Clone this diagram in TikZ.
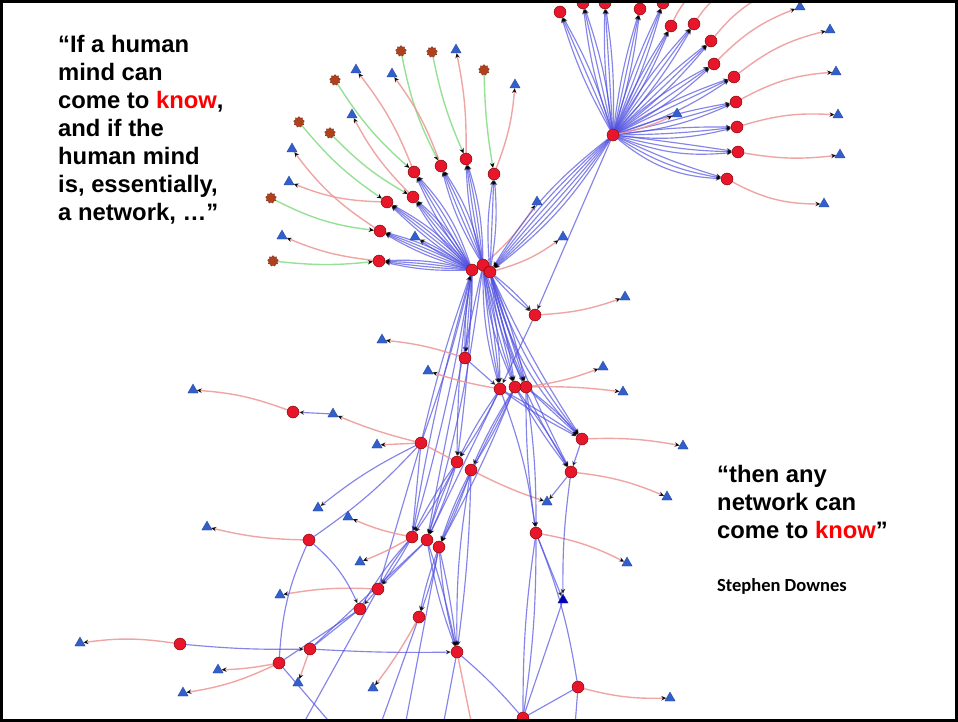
\documentclass[tikz,border=0pt]{standalone}
\usepackage{fontspec}
\setmainfont{Liberation Sans}
\newfontfamily\carl{Carlito}
\usetikzlibrary{shapes.geometric,arrows.meta,backgrounds}
\definecolor{nred}{RGB}{232,22,42}
\definecolor{nblue}{RGB}{50,95,205}
\definecolor{nbrown}{RGB}{175,65,30}
\definecolor{eblue}{RGB}{80,80,225}
\definecolor{epink}{RGB}{238,150,150}
\definecolor{egreen}{RGB}{150,225,150}
\definecolor{kred}{RGB}{255,0,0}
\newcommand\mybund[3]{\foreach \k in {#3}{\draw[bedge,arr] (#1) to[bend left=\k] (#2);}}
\begin{document}
\begin{tikzpicture}[x=1pt,y=-1pt,
 rn/.style={circle,fill=nred,draw=red!45!black,line width=0.4pt,inner sep=0pt,minimum size=12pt},
 tn/.style={regular polygon,regular polygon sides=3,fill=nblue,draw=nblue!70!black,line width=0.3pt,inner sep=0pt,minimum size=12pt},
 bn/.style={star,star points=9,star point ratio=1.35,fill=nbrown,draw=nbrown!70!black,line width=0.3pt,inner sep=0pt,minimum size=11pt},
 bedge/.style={draw=eblue,opacity=0.7,line width=1.15pt},
 pedge/.style={draw=epink,line width=1.4pt,opacity=0.85},
 gedge/.style={draw=egreen,line width=1.4pt},
 arr/.style={-{Stealth[length=5pt,width=4.5pt,black]}},
 qt/.style={font=\bfseries\fontsize{23.8}{28}\selectfont,align=left,anchor=north west,inner sep=0pt}
]
\useasboundingbox (0,0) rectangle (958,722);
% ---------- nodes
% upper-left fan reds
\node[rn] (rA) at (414,172) {};
\node[rn] (rB) at (441,166) {};
\node[rn] (rC) at (466,159) {};
\node[rn] (rD) at (494,174) {};
\node[rn] (rE) at (413,197) {};
\node[rn] (rF) at (387,202) {};
\node[rn] (rG) at (380,231) {};
\node[rn] (rH) at (379,261) {};
% hub
\node[rn] (h1) at (472,270) {};
\node[rn] (h2) at (483,265) {};
\node[rn] (h3) at (490,272) {};
% right hub and fan
\node[rn] (rh) at (613,135) {};
\node[rn] (q1) at (560,12) {};
\node[rn] (q2) at (583,3) {};
\node[rn] (q3) at (605,3) {};
\node[rn] (q4) at (640,9) {};
\node[rn] (q5) at (663,3) {};
\node[rn] (q6) at (671,26) {};
\node[rn] (q7) at (694,24) {};
\node[rn] (q8) at (711,41) {};
\node[rn] (q9) at (714,64) {};
\node[rn] (q10) at (734,77) {};
\node[rn] (q11) at (736,102) {};
\node[rn] (q12) at (737,127) {};
\node[rn] (q13) at (738,152) {};
\node[rn] (q14) at (727,179) {};
% middle reds
\node[rn] (m1) at (535,315) {};
\node[rn] (m2) at (465,358) {};
\node[rn] (m3) at (500,389) {};
\node[rn] (m4) at (515,387) {};
\node[rn] (m5) at (526,387) {};
\node[rn] (m6) at (293,412) {};
\node[rn] (m7) at (421,443) {};
\node[rn] (m8) at (457,462) {};
\node[rn] (m9) at (471,470) {};
\node[rn] (m10) at (582,439) {};
\node[rn] (m11) at (571,472) {};
\node[rn] (m12) at (536,533) {};
% lower reds
\node[rn] (l1) at (309,540) {};
\node[rn] (l2) at (412,537) {};
\node[rn] (l3) at (427,540) {};
\node[rn] (l4) at (439,547) {};
\node[rn] (l5) at (378,589) {};
\node[rn] (l6) at (360,609) {};
\node[rn] (l7) at (419,617) {};
\node[rn] (l8) at (457,652) {};
\node[rn] (l9) at (180,644) {};
\node[rn] (l10) at (310,649) {};
\node[rn] (l11) at (279,663) {};
\node[rn] (l12) at (578,687) {};
\node[rn] (l13) at (523,718) {};
% triangles
\node[tn] (tu1) at (456,50) {};
\node[tn] (tu2) at (515,85) {};
\node[tn] (tu3) at (356,70) {};
\node[tn] (tu4) at (392,74) {};
\node[tn] (tu5) at (352,115) {};
\node[tn] (tu6) at (292,149) {};
\node[tn] (tu7) at (289,182) {};
\node[tn] (tu8) at (282,236) {};
\node[tn] (tu9) at (537,202) {};
\node[tn] (tu10) at (563,237) {};
\node[tn] (tu11) at (415,237) {};
\node[tn] (tr1) at (800,7) {};
\node[tn] (tr2) at (830,30) {};
\node[tn] (tr3) at (836,72) {};
\node[tn] (tr4) at (838,115) {};
\node[tn] (tr5) at (840,155) {};
\node[tn] (tr6) at (824,204) {};
\node[tn] (tr7) at (677,114) {};
\node[tn] (tm1) at (625,297) {};
\node[tn] (tm2) at (382,340) {};
\node[tn] (tm3) at (428,371) {};
\node[tn] (tm4) at (603,367) {};
\node[tn] (tm5) at (623,392) {};
\node[tn] (tm6) at (193,390) {};
\node[tn] (tm7) at (333,414) {};
\node[tn] (tm8) at (377,445) {};
\node[tn] (tm9) at (547,502) {};
\node[tn] (tm10) at (683,446) {};
\node[tn] (tm11) at (667,497) {};
\node[tn] (tm12) at (627,563) {};
\node[tn,fill=blue!75!black] (tm13) at (563,600) {};
\node[tn] (tl1) at (318,508) {};
\node[tn] (tl2) at (348,517) {};
\node[tn] (tl3) at (207,527) {};
\node[tn] (tl4) at (360,562) {};
\node[tn] (tl5) at (280,595) {};
\node[tn] (tl6) at (80,643) {};
\node[tn] (tl7) at (218,670) {};
\node[tn] (tl8) at (183,693) {};
\node[tn] (tl9) at (298,683) {};
\node[tn] (tl10) at (373,688) {};
\node[tn] (tl11) at (670,698) {};
% brown
\node[bn] (b1) at (401,51) {};
\node[bn] (b2) at (432,52) {};
\node[bn] (b3) at (484,70) {};
\node[bn] (b4) at (335,80) {};
\node[bn] (b5) at (299,122) {};
\node[bn] (b6) at (330,133) {};
\node[bn] (b7) at (271,198) {};
\node[bn] (b8) at (273,261) {};
% off-frame ends
\coordinate (ct1) at (690,-4);
\coordinate (ct2) at (718,-4);
\coordinate (ct3) at (762,-4);
\coordinate (cb1) at (333,726);
\coordinate (cb2) at (302,726);
\coordinate (cb3) at (380,726);
\coordinate (cb4) at (443,726);
\coordinate (cb5) at (472,726);
\coordinate (cb6) at (575,726);
\coordinate (cb7) at (405,726);
% ---------- edges
\begin{pgfonlayer}{background}
\fill[white] (0,0) rectangle (958,722);
% green
\draw[gedge,arr] (b1) to[bend right=8] (rB);
\draw[gedge,arr] (b2) to[bend right=6] (rC);
\draw[gedge,arr] (b3) to[bend right=4] (rD);
\draw[gedge,arr] (b4) to[bend right=8] (rA);
\draw[gedge,arr] (b5) to[bend right=8] (rF);
\draw[gedge,arr] (b6) to[bend right=8] (rE);
\draw[gedge,arr] (b7) to[bend right=10] (rG);
\draw[gedge,arr] (b8) to[bend right=6] (rH);
% pink upper-left
\draw[pedge,arr] (rA) to[bend right=8] (tu3);
\draw[pedge,arr] (rB) to[bend right=8] (tu4);
\draw[pedge,arr] (rC) to[bend right=6] (tu1);
\draw[pedge,arr] (rD) to[bend right=8] (tu2);
\draw[pedge,arr] (rE) to[bend left=8] (tu5);
\draw[pedge,arr] (rG) to[bend left=10] (tu6);
\draw[pedge,arr] (rF) to[bend left=10] (tu7);
\draw[pedge,arr] (rH) to[bend left=8] (tu8);
\draw[pedge,arr] (h2) to[bend right=8] (tu9);
\draw[pedge,arr] (h3) to[bend right=10] (tu10);
% blue hub fan
\mybund{h1}{rA}{-12,-6,0,6}
\mybund{h2}{rB}{-10,-4,2,8}
\mybund{h2}{rC}{-8,-3,2,7}
\mybund{h3}{rD}{-7,0,7}
\mybund{h1}{rE}{-10,-4,2,8}
\mybund{h1}{rF}{-10,-5,0,5}
\mybund{h1}{rG}{-8,-3,2,7}
\mybund{h1}{rH}{-8,-3,2,7}
\mybund{h1}{tu11}{-4,4}
\mybund{rh}{h3}{-10,-6,-2,2,6,10}
% right fan
\mybund{rh}{q1}{-6,0,6}
\mybund{rh}{q2}{-6,0,6}
\mybund{rh}{q3}{-5,0,5}
\mybund{rh}{q4}{-5,0,5}
\mybund{rh}{q5}{-5,0,5}
\mybund{rh}{q6}{-5,0,5}
\mybund{rh}{q7}{-6,0,6}
\mybund{rh}{q8}{-6,0,6}
\mybund{rh}{q9}{-7,0,7}
\mybund{rh}{q10}{-8,0,6}
\mybund{rh}{q11}{-9,-2,5}
\mybund{rh}{q12}{-10,-3,4}
\mybund{rh}{q13}{-13,-6,1}
\mybund{rh}{q14}{-18,-11,-4}
\draw[pedge,arr] (q6) to[bend left=8] (ct1);
\draw[pedge,arr] (q7) to[bend left=8] (ct2);
\draw[pedge,arr] (q8) to[bend left=10] (ct3);
\draw[pedge,arr] (q9) to[bend left=12] (tr1);
\draw[pedge,arr] (q10) to[bend left=12] (tr2);
\draw[pedge,arr] (q11) to[bend left=12] (tr3);
\draw[pedge,arr] (q12) to[bend left=10] (tr4);
\draw[pedge,arr] (q13) to[bend right=8] (tr5);
\draw[pedge,arr] (q14) to[bend right=14] (tr6);
\draw[pedge,arr] (rh) to[bend right=6] (tr7);
% hub downward
\draw[bedge,arr] (rh) -- (m1);
\mybund{h3}{m1}{-5,5}
\mybund{h1}{m2}{-5,0,5}
\mybund{h2}{m3}{-8,-3,2,7}
\mybund{h2}{m4}{-9,-4,1,6}
\mybund{h3}{m5}{-10,-5,0,5}
\mybund{h3}{m10}{-14,-9,-4}
\mybund{h3}{m11}{-10,-5}
\mybund{h1}{m8}{-4,3}
\mybund{h1}{l2}{-3,3}
\mybund{h2}{l3}{-1,4}
\mybund{m7}{h1}{-3,3}
% middle
\draw[pedge,arr] (m1) to[bend right=8] (tm1);
\draw[pedge,arr] (m2) to[bend right=6] (tm2);
\draw[pedge,arr] (m3) to[bend left=4] (tm3);
\draw[pedge,arr] (m5) to[bend right=6] (tm4);
\draw[pedge,arr] (m5) to[bend left=4] (tm5);
\draw[pedge,arr] (m6) to[bend right=8] (tm6);
\draw[bedge,arr] (tm7) -- (m6);
\draw[pedge,arr] (m7) to[bend left=4] (tm7);
\draw[pedge] (m7) -- (m8);
\draw[pedge,arr] (m7) -- (tm8);
\draw[pedge,arr] (m9) to[bend right=4] (tm9);
\draw[pedge,arr] (m10) to[bend left=6] (tm10);
\draw[pedge,arr] (m11) to[bend left=8] (tm11);
\draw[pedge,arr] (m12) to[bend left=8] (tm12);
\draw[bedge,arr] (m2) -- (m3);
\draw[bedge,arr] (m1) -- (m3);
\mybund{m3}{m10}{-4,3}
\mybund{m4}{m11}{-4,3}
\mybund{m5}{m10}{0,5}
\mybund{m3}{m8}{-4,4}
\mybund{m4}{m9}{-4,4}
\mybund{m4}{l4}{-3,3}
\mybund{m3}{l3}{0}
\mybund{m5}{m12}{-4,4}
\mybund{m3}{m12}{6}
\draw[bedge,arr] (m10) -- (m11);
\draw[bedge,arr] (m11) -- (tm9);
\draw[bedge,arr] (m11) to[bend right=4] (tm13);
\draw[bedge,arr] (m12) -- (tm13);
\draw[bedge] (m12) to[bend left=6] (l12);
\draw[bedge] (m12) to[bend right=4] (l13);
\draw[bedge] (m12) to[bend left=4] (l13);
\draw[bedge] (tm13) -- (l13);
\draw[bedge,arr] (m7) to[bend right=6] (tl1);
\draw[bedge] (m7) -- (l5);
\draw[bedge] (m7) -- (l2);
\draw[bedge] (m7) to[bend left=6] (l1);
\mybund{m8}{l2}{-4,4}
\mybund{m8}{l3}{-4,4}
\mybund{m9}{l4}{-4,4}
\mybund{m9}{l8}{-5,3}
% lower
\draw[pedge,arr] (l1) to[bend left=6] (tl3);
\draw[pedge,arr] (l2) to[bend left=6] (tl2);
\draw[pedge,arr] (l2) to[bend left=4] (tl4);
\draw[pedge,arr] (l5) to[bend right=6] (tl5);
\draw[pedge,arr] (l9) to[bend right=8] (tl6);
\draw[pedge,arr] (l11) to[bend left=4] (tl7);
\draw[pedge,arr] (l11) to[bend left=8] (tl8);
\draw[pedge,arr] (l10) -- (tl9);
\draw[pedge,arr] (l7) to[bend left=4] (tl10);
\draw[pedge,arr] (l12) to[bend right=8] (tl11);
\mybund{l2}{l5}{-4,4}
\draw[bedge,arr] (l3) -- (l5);
\mybund{l4}{l7}{-4,4}
\mybund{l3}{l8}{-5,3}
\mybund{l4}{l8}{-5,3}
\draw[bedge] (l2) to[bend right=6] (l6);
\draw[bedge] (l3) -- (l10);
\draw[bedge,arr] (l5) -- (l6);
\draw[bedge] (l6) -- (l11);
\draw[bedge] (l6) -- (l10);
\draw[bedge,arr] (l1) to[bend left=12] (l6);
\draw[bedge] (l1) to[bend right=10] (l11);
\draw[bedge,arr] (l9) to[bend right=3] (l10);
\draw[bedge,arr] (l10) to[bend right=2] (l8);
\draw[bedge] (l11) -- (cb1);
\draw[bedge] (l5) -- (cb2);
\draw[bedge] (l7) -- (cb3);
\draw[bedge] (l8) -- (cb4);
\draw[pedge] (l8) -- (cb5);
\draw[bedge] (l8) to[bend left=4] (l13);
\draw[bedge] (l12) -- (l13);
\draw[bedge] (l12) -- (cb6);
\draw[bedge] (l4) -- (cb7);
\end{pgfonlayer}
% ---------- texts
\node[qt] (quoteL) at (58,35) {“If a human\\mind can\\come to \textcolor{kred}{know},\\and if the\\human mind\\is, essentially,\\a network, …”};
\node[qt] (quoteR) at (717,465) {“then any\\network can\\come to \textcolor{kred}{know}”};
\node[anchor=base west,inner sep=0pt,font=\carl\bfseries\fontsize{18.5}{20}\selectfont] (author) at (717,591) {Stephen Downes};
% ---------- frame
\draw[line width=3pt] (1.5,2) rectangle (956.5,720);
\end{tikzpicture}
\end{document}
